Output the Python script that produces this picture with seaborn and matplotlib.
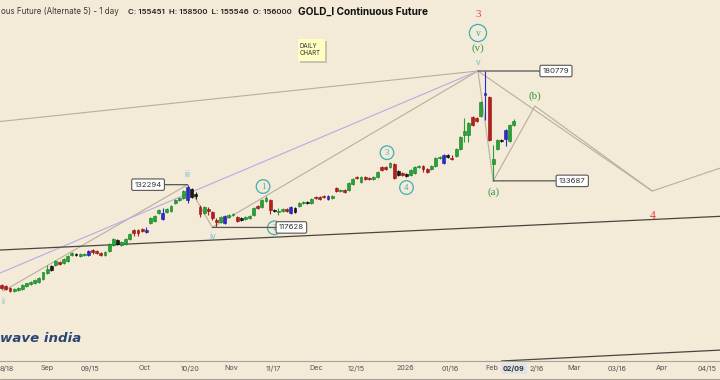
import numpy as np
import pandas as pd
import matplotlib
matplotlib.use("Agg")
import matplotlib.pyplot as plt
from matplotlib.patches import Rectangle
from matplotlib.lines import Line2D
import seaborn as sns

# ---------------- data (daily candles) ----------------
opens = [100400, 100100, 99700, 98700, 99050, 99240, 100140, 100690, 100890, 101250,
         102000, 103870, 104640, 106000, 106970, 106590, 107350, 108960, 109340, 108740,
         109040, 109130, 110550, 110160, 109560, 109130, 110340, 112170, 112390, 112170,
         112390, 114040, 116800, 116800, 117020, 116160, 118960, 119820, 122280, 122480,
         122720, 123060, 125900, 126830, 127630, 126830, 130720, 128830, 124520, 122280,
         123730, 122820, 120050, 119490, 119160, 121140, 121710, 120940, 120600, 120280,
         120720, 121710, 124760, 124520, 126480, 126830, 123390, 122720, 123160, 123730,
         122280, 123970, 124860, 125700, 126130, 125900, 127990, 127990, 128230, 127180,
         127420, 130960, 130010, 130370, 130370, 132530, 135220, 133370, 135220, 134830,
         134250, 134990, 138750, 138750, 138750, 140020, 137200, 136580, 136110, 135850,
         136710, 138750, 139380, 138120, 138120, 139360, 142230, 140510, 143520, 142420,
         143250, 145790, 151630, 151630, 159180, 159000, 159890, 169240, 168170, 139900,
         145790, 149560, 149850, 149270, 156000]
highs = [100700, 100400, 99900, 99600, 99850, 100700, 101100, 101500, 102100, 102550,
         104150, 106090, 106090, 107600, 107170, 108200, 109000, 109940, 109640, 109640,
         109640, 110450, 110860, 110450, 109940, 110350, 112700, 114350, 113950, 113320,
         114350, 115830, 117220, 117120, 117330, 117860, 120930, 121710, 123730, 123970,
         124070, 125200, 127180, 127980, 130470, 132294, 131070, 129760, 125100, 124860,
         124520, 123160, 120710, 121270, 121710, 122050, 122380, 121270, 120930, 121270,
         121710, 124310, 125100, 127180, 128230, 127180, 123730, 123970, 123970, 124070,
         124860, 124310, 126040, 126590, 126480, 127630, 128340, 128340, 128580, 128580,
         128580, 131300, 130720, 130720, 133140, 134620, 135590, 135350, 135590, 135220,
         135350, 137480, 139130, 139130, 140910, 140400, 137600, 136960, 136500, 138100,
         139380, 139760, 139760, 138500, 139630, 142620, 143000, 143910, 143910, 143520,
         146190, 151080, 158750, 157240, 159620, 159400, 166620, 180779, 168630, 147520,
         149980, 150000, 154150, 156290, 158500]
lows = [99300, 99000, 98500, 98500, 98800, 99050, 99870, 100400, 100600, 101000,
        101800, 103640, 104350, 105750, 106000, 106300, 107100, 108700, 108700, 108450,
        108740, 108850, 109340, 109250, 108740, 108850, 110050, 111900, 112080, 111900,
        112080, 113720, 114890, 114890, 116250, 115850, 118630, 119500, 121950, 119950,
        122400, 122720, 125550, 126480, 127280, 125900, 127530, 127080, 121140, 121950,
        121710, 120050, 117628, 119170, 118830, 120820, 121380, 119280, 119720, 119950,
        120380, 121380, 123650, 124180, 126130, 122050, 122620, 121710, 122820, 122820,
        121950, 122480, 124520, 125350, 125550, 125550, 127070, 126720, 127420, 126830,
        127070, 129760, 129650, 129400, 130010, 132170, 134250, 133000, 134000, 134000,
        133900, 134620, 137350, 137600, 138370, 134250, 135500, 135350, 135100, 135500,
        136330, 138370, 137090, 136710, 137730, 138990, 141840, 140120, 142230, 141720,
        142860, 145390, 148870, 148870, 155430, 157300, 159450, 158010, 149150, 133687,
        145390, 148750, 147230, 148870, 155546]
closes = [99600, 99300, 98700, 99400, 99600, 100500, 100890, 101250, 101805, 102280,
          103980, 105010, 105800, 107350, 106380, 107940, 108740, 109560, 108960, 109340,
          109340, 110160, 109940, 109560, 109130, 110040, 112390, 114040, 113630, 113010,
          114040, 115520, 115740, 115740, 116570, 116800, 120600, 121380, 123390, 120280,
          123730, 124860, 126830, 127630, 130110, 131340, 127880, 128340, 121950, 124520,
          123160, 120600, 119390, 120940, 121380, 121710, 122050, 119620, 120050, 120940,
          121380, 123970, 123970, 126830, 127420, 123390, 122950, 123160, 123630, 123160,
          124520, 122820, 125700, 126240, 125900, 127280, 127420, 127070, 127770, 128230,
          128230, 130110, 130370, 129760, 132790, 134250, 134620, 134990, 134360, 134360,
          134990, 137090, 137730, 138000, 140290, 134620, 135850, 135740, 135590, 137730,
          138990, 139380, 138120, 137090, 139250, 142230, 142620, 143520, 142860, 142040,
          145790, 150670, 153310, 156840, 155860, 157700, 166160, 170030, 149562, 141950,
          149560, 149150, 153730, 155860, 157700]
# candle colour class: g = up, r = down, b = blue bar, k = black bar
kinds = ("rrrggggggg" "ggkgrgggkg" "gbrrrgggkg" "ggrrrbgggb" "gggggbkkrg"
         "rrrgbggrkg" "ggrggrkggr" "bkggkgrrrb" "grgrggrgrr" "ggrrgrkrkg"
         "ggrrgggbkr" "ggggrrgbrg" "gkbgg")

# Elliott wave path (bar index, price) incl. projected (b) and target
wave_idx = [-0.41, 0.4, 45, 51, 115.3, 119, 129.1, 157.5, 174.4]
wave_px = [99950, 98780, 132294, 117628, 180779, 133687, 164200, 130000, 138700]

# trend lines (bar index pairs, price pairs)
top_line_idx, top_line_px = [-0.41, 115.3], [157360, 180779]
lav_line_idx, lav_line_px = [-0.41, 115.3], [103780, 180779]
base_line_idx, base_line_px = [-0.41, 173.9], [110552, 121270]
low_line_idx, low_line_px = [121, 174.4], [81500, 84000]

tick_pos = [1.3, 11, 21.4, 34.7, 45.6, 55.6, 65.7, 76.2, 85.8, 97.7, 108.5,
            118.6, 124, 129.5, 138.5, 149, 159.9, 170.7]
tick_lab = ['8/18', 'Sep', '09/15', 'Oct', '10/20', 'Nov', '11/17', 'Dec',
            '12/15', '2026', '01/16', 'Feb', '02/09', '2/16', 'Mar', '03/16',
            'Apr', '04/15']

# ---------------- style ----------------
BG = '#f3ead8'
sns.set_theme(style='white')
plt.rcParams['font.family'] = ['Inter', 'DejaVu Sans']
SERIF = ['Liberation Serif', 'DejaVu Serif']

fig = plt.figure(figsize=(7.2, 3.8), dpi=100)
fig.patch.set_facecolor(BG)
ax = fig.add_axes([0, 19 / 380, 1, 361 / 380])
ax.set_facecolor(BG)
ax.set_yscale('log')
ax.set_xlim(-0.41, 173.9)
ax.set_ylim(81500, 219720)

# ---------------- candles ----------------
df = pd.DataFrame(dict(i=np.arange(len(opens)), o=opens, h=highs, l=lows,
                       c=closes, k=list(kinds)))
face = {'g': '#25a334', 'r': '#b81d1d', 'b': '#2b2bd0', 'k': '#1c1c1c'}
edge = {'g': '#167a22', 'r': '#8a1010', 'b': '#1a1a90', 'k': '#000000'}
for kd, col in face.items():
    d = df[df.k == kd]
    ax.vlines(d.i, d.l, d.h, color=col, lw=0.8, zorder=4)
    lo = np.minimum(d.o, d.c)
    hi = np.maximum(d.o, d.c)
    ax.bar(d.i, hi - lo, bottom=lo, width=0.7, color=col, edgecolor=edge[kd],
           lw=0.4, zorder=5)

# ---------------- lines ----------------
GREY = '#b9ae9e'
wave = pd.DataFrame({'x': wave_idx, 'y': wave_px})
sns.lineplot(data=wave, x='x', y='y', sort=False, estimator=None, color=GREY,
             lw=0.8, ax=ax, zorder=2)
sns.lineplot(x=[wave_idx[4], wave_idx[7]], y=[wave_px[4], wave_px[7]],
             sort=False, estimator=None, color=GREY, lw=0.8, ax=ax, zorder=2)
sns.lineplot(x=top_line_idx, y=top_line_px, sort=False, estimator=None,
             color=GREY, lw=0.8, ax=ax, zorder=2)
sns.lineplot(x=lav_line_idx, y=lav_line_px, sort=False, estimator=None,
             color='#b4ace6', lw=0.8, ax=ax, zorder=2)
sns.lineplot(x=base_line_idx, y=base_line_px, sort=False, estimator=None,
             color='#4a4540', lw=0.9, ax=ax, zorder=3)
sns.lineplot(x=low_line_idx, y=low_line_px, sort=False, estimator=None,
             color='#4a4540', lw=0.9, ax=ax, zorder=3)
ax.set_xlabel('')
ax.set_ylabel('')


def ann(text, xy, dx, dy, **kw):
    kw.setdefault('ha', 'center')
    kw.setdefault('va', 'center')
    ax.annotate(text, xy=xy, xytext=(dx, dy), textcoords='offset pixels',
                annotation_clip=False, **kw)


P = list(zip(wave_idx, wave_px))
P_ii, P_iii, P_iv, P_v, P_a, P_b, P_x = P[1], P[2], P[3], P[4], P[5], P[6], P[7]

TEAL = '#3fb0b0'
LTEAL = '#6cc2c8'
GREEN = '#2f9a3a'
RED = '#e8403a'

# small roman labels
ann('ii', P_ii, 0, -10, fontsize=6, color=LTEAL, zorder=6)
ann('iii', P_iii, 0, 10, fontsize=6, color=LTEAL, zorder=6)
ann('iv', P_iv, 0, -9, fontsize=6, color=LTEAL, zorder=6)
ann('v', P_v, 0, 9, fontsize=6, color=LTEAL, zorder=6)
ann('(v)', P_v, 0, 23, fontsize=7.8, color=GREEN, family=SERIF, zorder=6)
ann('v', P_v, 0, 38, fontsize=7, color=TEAL, family=SERIF, zorder=6,
    bbox=dict(boxstyle='circle,pad=0.42', fc='none', ec=TEAL, lw=0.9))
ann('3', P_v, 0, 57, fontsize=8, color=RED, family=SERIF, zorder=6)
ann('(a)', P_a, 0, -11, fontsize=7.8, color=GREEN, family=SERIF, zorder=6)
ann('(b)', P_b, 0, 9.5, fontsize=7.8, color=GREEN, family=SERIF, zorder=6)
ann('4', P_x, 0, -25, fontsize=8.5, color=RED, family=SERIF, zorder=6)

circ = dict(boxstyle='circle,pad=0.32', fc='none', ec=TEAL, lw=0.9)
ann('1', (64, highs[64]), -3, 9.5, fontsize=6.3, color=TEAL, family=SERIF,
    bbox=circ, zorder=6)
ann('2', (66, lows[66]), 0, -15.5, fontsize=6.3, color=TEAL, family=SERIF,
    bbox=circ, zorder=6)
ann('3', (94, highs[94]), -3, 9, fontsize=6.3, color=TEAL, family=SERIF,
    bbox=circ, zorder=6)
ann('4', (98, lows[98]), 0, -10.5, fontsize=6.3, color=TEAL, family=SERIF,
    bbox=circ, zorder=6)

# price boxes
box = dict(boxstyle='round,pad=0.35,rounding_size=0.2', fc='white',
           ec='#555555', lw=0.8)
arrow = dict(arrowstyle='-', color='#555555', lw=0.9, shrinkA=0, shrinkB=0)
for piv, dx in [(P_iii, -39.5), (P_iv, 79), (P_v, 78), (P_a, 79)]:
    ann(f"{int(piv[1])}", piv, dx, 0, fontsize=5.6, color='#333333',
        bbox=box, arrowprops=arrow, zorder=7)

# ---------------- axes ----------------
for s in ['top', 'left', 'right']:
    ax.spines[s].set_visible(False)
ax.spines['bottom'].set_color('#aaa396')
ax.spines['bottom'].set_linewidth(0.8)
ax.set_yticks([])
ax.yaxis.set_minor_locator(matplotlib.ticker.NullLocator())
ax.set_xticks(tick_pos)
ax.set_xticklabels(tick_lab)
ax.tick_params(axis='x', length=0, pad=3.2, labelsize=5.2, labelcolor='#555555')
for t in ax.get_xticklabels():
    if t.get_text() == '02/09':
        t.set_fontweight('bold')
        t.set_color('#333333')
        t.set_bbox(dict(boxstyle='square,pad=0.3', fc='#dfe2e9', ec='none'))

# ---------------- header, notes, logo ----------------
def fx(px):
    return px / 720


def fy(py):
    return 1 - py / 380


fig.text(fx(1), fy(11.5), "ous Future (Alternate 5) - 1 day", fontsize=5.8,
         color='#3a3a3a', va='center', ha='left')
fig.text(fx(128), fy(11.5), "C: 155451  H: 158500  L: 155546  O: 156000",
         fontsize=5.6, fontweight='semibold', color='#222222', va='center')
fig.text(fx(298), fy(11.5), "GOLD_I Continuous Future", fontsize=7.3,
         fontweight='bold', color='#111111', va='center')

fig.add_artist(Rectangle((fx(300), fy(63)), 27 / 720, 22 / 380,
                         transform=fig.transFigure, fc='#cbc2b2', ec='none'))
fig.add_artist(Rectangle((fx(297.5), fy(60.5)), 27 / 720, 21.5 / 380,
                         transform=fig.transFigure, fc='#ffffc2', ec='none'))
fig.text(fx(300), fy(42.5), "DAILY\nCHART", fontsize=4.4, color='#333333',
         va='top', ha='left', linespacing=1.25)

fig.text(fx(0.5), fy(339), "wave india", fontsize=9.6, fontweight='bold',
         fontstyle='oblique', family='DejaVu Sans', color='#2c4673',
         va='center', ha='left')

fig.add_artist(Line2D([0, 1], [fy(379), fy(379)], transform=fig.transFigure,
                      color='#aaa396', lw=0.8))

fig.savefig('out.png', dpi=100, facecolor=BG)
